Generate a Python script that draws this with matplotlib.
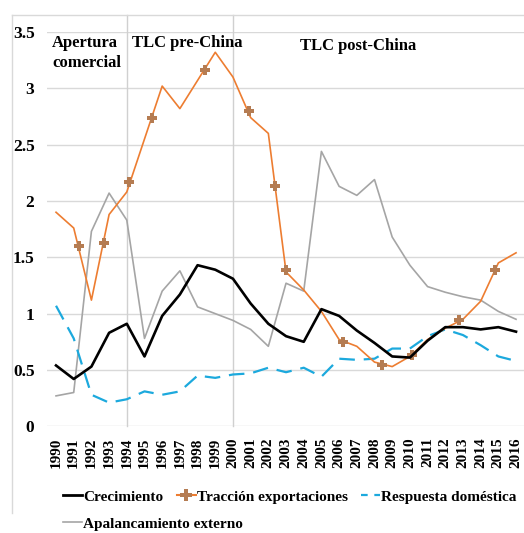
import numpy as np
import matplotlib
matplotlib.use("Agg")
import matplotlib.pyplot as plt
from matplotlib.lines import Line2D

# data
years = list(range(1990, 2017))
crecimiento = [0.54, 0.42, 0.53, 0.83, 0.91, 0.62, 0.98, 1.17, 1.43, 1.39, 1.31, 1.09, 0.91, 0.80,
               0.75, 1.04, 0.98, 0.85, 0.74, 0.62, 0.61, 0.76, 0.88, 0.88, 0.86, 0.88, 0.84]
traccion = [1.90, 1.76, 1.12, 1.88, 2.08, 2.55, 3.02, 2.82, 3.07, 3.32, 3.10, 2.74, 2.60, 1.37,
            1.21, 1.02, 0.77, 0.71, 0.57, 0.53, 0.62, 0.77, 0.87, 0.95, 1.11, 1.45, 1.54]
respuesta = [1.07, 0.78, 0.28, 0.21, 0.24, 0.31, 0.28, 0.31, 0.45, 0.43, 0.46, 0.47, 0.52, 0.48,
             0.52, 0.44, 0.60, 0.59, 0.60, 0.69, 0.69, 0.80, 0.86, 0.81, 0.72, 0.62, 0.58]
apalancamiento = [0.27, 0.30, 1.73, 2.07, 1.83, 0.78, 1.20, 1.38, 1.06, 1.00, 0.94, 0.86, 0.71, 1.27,
                  1.20, 2.44, 2.13, 2.05, 2.19, 1.68, 1.43, 1.24, 1.19, 1.15, 1.12, 1.02, 0.95]
# markers on the export series sit between the yearly points in the original
marker_years = [1991.3, 1992.7, 1994.1, 1995.4, 1998.4, 2000.9, 2002.4, 2003.0, 2006.2, 2008.4,
                2010.1, 2012.8, 2014.8]
marker_vals = [1.60, 1.63, 2.17, 2.74, 3.16, 2.80, 2.13, 1.39, 0.75, 0.54, 0.63, 0.94, 1.39]
yticks = [0, 0.5, 1, 1.5, 2, 2.5, 3, 3.5]
ytick_labels = ["0", "0.5", "1", "1.5", "2", "2.5", "3", "3.5"]
period_breaks = [1994, 2000]

serif = "Liberation Serif"
black = "#000000"
orange = "#ED7D31"
marker_col = "#B57C52"
gray = "#A5A5A5"
blue = "#1CA9DD"
gridc = "#D9D9D9"

W, H = 524, 533
fig = plt.figure(figsize=(W / 100, H / 100), dpi=100)

# light frame (top and left edges show in the original)
fig.add_artist(Line2D([11.7 / W, 1], [1 - 15 / H, 1 - 15 / H], transform=fig.transFigure,
                      color=gridc, linewidth=1))
fig.add_artist(Line2D([11.7 / W, 11.7 / W], [1 - 15 / H, 1 - 513 / H], transform=fig.transFigure,
                      color=gridc, linewidth=1))

ax_l, ax_b, ax_t = 47 / W, 1 - 426.3 / H, 1 - 32 / H
ax = fig.add_axes([ax_l, ax_b, 1 - ax_l, ax_t - ax_b])

for v in yticks:
    ax.axhline(v, color=gridc, linewidth=1, zorder=0)
for b in period_breaks:
    ax.axvline(b, ymin=0, ymax=(426.3 - 15) / (426.3 - 32), color="#D0D0D0", linewidth=1,
               clip_on=False, zorder=0)

ax.plot(years, apalancamiento, color=gray, linewidth=1.2, zorder=2)
ax.plot(years, respuesta, color=blue, linewidth=1.6, dashes=(7, 4), zorder=3)
ax.plot(years, traccion, color=orange, linewidth=1.2, zorder=4)
ax.plot(marker_years, marker_vals, linestyle="none", marker="P", markersize=7,
        color=marker_col, markeredgewidth=0, zorder=5)
ax.plot(years, crecimiento, color=black, linewidth=1.9, zorder=6)

ax.set_xlim(1989.49, 2016.45)
ax.set_ylim(0, 3.5)
ax.set_xticks(years)
ax.set_xticklabels([str(y) for y in years], rotation=90, fontsize=11, fontweight="bold",
                   family=serif)
ax.set_yticks(yticks)
ax.set_yticklabels(ytick_labels, fontsize=12.5, fontweight="bold", family=serif)
ax.tick_params(axis="both", length=0)
ax.tick_params(axis="x", pad=8)
ax.tick_params(axis="y", pad=9)
for s in ax.spines.values():
    s.set_visible(False)

txt = dict(fontsize=12, fontweight="bold", family=serif, va="top", ha="left")
fig.text(52 / W, 1 - 35 / H, "Apertura\ncomercial", linespacing=1.3, **txt)
fig.text(132 / W, 1 - 35 / H, "TLC pre-China", **txt)
fig.text(300 / W, 1 - 38 / H, "TLC post-China", **txt)

# legend: first row with three entries, the fourth wraps below
leg_font = dict(family=serif, weight="bold", size=11)
leg_kw = dict(loc="upper left", frameon=False, borderpad=0, borderaxespad=0, handlelength=1.25,
              handletextpad=0.05, columnspacing=0.9, prop=leg_font)
row1 = [
    Line2D([], [], color=black, linewidth=2),
    Line2D([], [], color=orange, linewidth=1.5, marker="P", markersize=8, markerfacecolor=marker_col,
           markeredgewidth=0),
    Line2D([], [], color=blue, linewidth=1.6, dashes=(3, 3)),
]
fig.legend(row1, ["Crecimiento", "Tracción exportaciones", "Respuesta doméstica"],
           bbox_to_anchor=(63 / W, 1 - 490 / H), ncol=3, **leg_kw)
fig.legend([Line2D([], [], color=gray, linewidth=1.2)], ["Apalancamiento externo"],
           bbox_to_anchor=(63 / W, 1 - 517 / H), ncol=1, **leg_kw)

fig.savefig("out.png", dpi=100)
